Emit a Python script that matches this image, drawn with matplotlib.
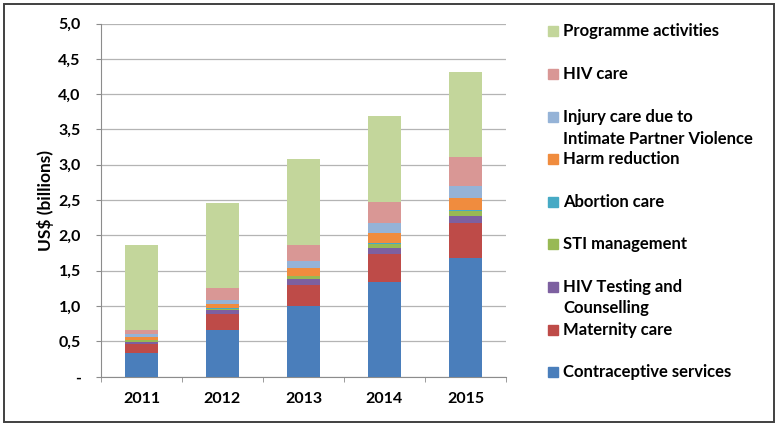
import matplotlib.pyplot as plt
import numpy as np
from matplotlib.patches import Rectangle
from matplotlib.ticker import FuncFormatter, FixedLocator

plt.rcParams['font.family'] = ['Lato', 'DejaVu Sans']
plt.rcParams['font.weight'] = 'bold'

years = ['2011', '2012', '2013', '2014', '2015']

# US$ billions (bottom to top)
contraceptive = [0.33, 0.66, 1.00, 1.34, 1.68]
maternity     = [0.13, 0.225, 0.30, 0.40, 0.49]
hiv_testing   = [0.03, 0.055, 0.08, 0.08, 0.10]
sti           = [0.03, 0.02, 0.04, 0.06, 0.08]
abortion      = [0.005, 0.01, 0.01, 0.01, 0.01]
harm          = [0.03, 0.065, 0.11, 0.14, 0.17]
injury        = [0.045, 0.055, 0.10, 0.14, 0.17]
hiv_care      = [0.06, 0.17, 0.23, 0.31, 0.41]
programme     = [1.20, 1.20, 1.21, 1.21, 1.20]

series = [contraceptive, maternity, hiv_testing, sti, abortion, harm, injury, hiv_care, programme]
labels = ['Contraceptive services', 'Maternity care', 'HIV Testing and\nCounselling',
          'STI management', 'Abortion care', 'Harm reduction',
          'Injury care due to\nIntimate Partner Violence', 'HIV care', 'Programme activities']
colors = ['#4A7EBB', '#BE4B48', '#7D60A0', '#98B954', '#46AAC5', '#F08C3E',
          '#95B3D7', '#D99795', '#C3D69B']

fig = plt.figure(figsize=(7.78, 4.26), dpi=100)
W, H = 778.0, 426.0
ax = fig.add_axes([101/W, 1-376.7/H, 405/W, (376.7-23.5)/H])

x = np.arange(len(years))
bottom = np.zeros(len(years))
for vals, col, lab in zip(series, colors, labels):
    ax.bar(x, vals, 0.4, bottom=bottom, color=col, label=lab, zorder=3)
    bottom += np.array(vals)

ax.set_xlim(-0.5, 4.5)
ax.set_ylim(0, 5.0)
ax.set_yticks(np.arange(0, 5.01, 0.5))
ax.yaxis.set_major_formatter(FuncFormatter(lambda v, p: '-' if abs(v) < 1e-9 else ('%.1f' % v).replace('.', ',')))
ax.set_xticks(x)
ax.set_xticklabels(years)
ax.xaxis.set_minor_locator(FixedLocator(np.arange(-0.5, 4.6, 1.0)))
ax.tick_params(axis='x', which='major', length=0, pad=11, labelsize=11.5)
ax.tick_params(axis='x', which='minor', length=3.6, color='#8C8C8C', direction='out')
ax.tick_params(axis='y', length=3.6, color='#8C8C8C', direction='out', pad=11, labelsize=11.5)
ax.grid(axis='y', color='#B4B4B4', lw=0.9, zorder=0)
for s in ['top', 'right']:
    ax.spines[s].set_visible(False)
for s in ['left', 'bottom']:
    ax.spines[s].set_color('#8C8C8C')
ax.set_ylabel('US$ (billions)', fontsize=12.5, fontweight='bold', labelpad=3)

# legend drawn Excel-style on the right, top entry = last series
legend_y = [372, 330, 287, 244, 202, 159, 117, 74, 31]
for lab, col, yy in zip(labels, colors, legend_y):
    fig.patches.append(Rectangle((548/W, 1-(yy+5)/H), 10/W, 10/H,
                                 transform=fig.transFigure, color=col))
    for k, line in enumerate(lab.split('\n')):
        fig.text(563/W, 1-(yy+k*21.5)/H, line, fontsize=12, fontweight='bold',
                 va='center', ha='left')

fig.patches.append(Rectangle((4/W, 4/H), 770/W, 418/H, transform=fig.transFigure,
                             fill=False, edgecolor='#404040', lw=1.4))

plt.savefig('out.png', dpi=100)
